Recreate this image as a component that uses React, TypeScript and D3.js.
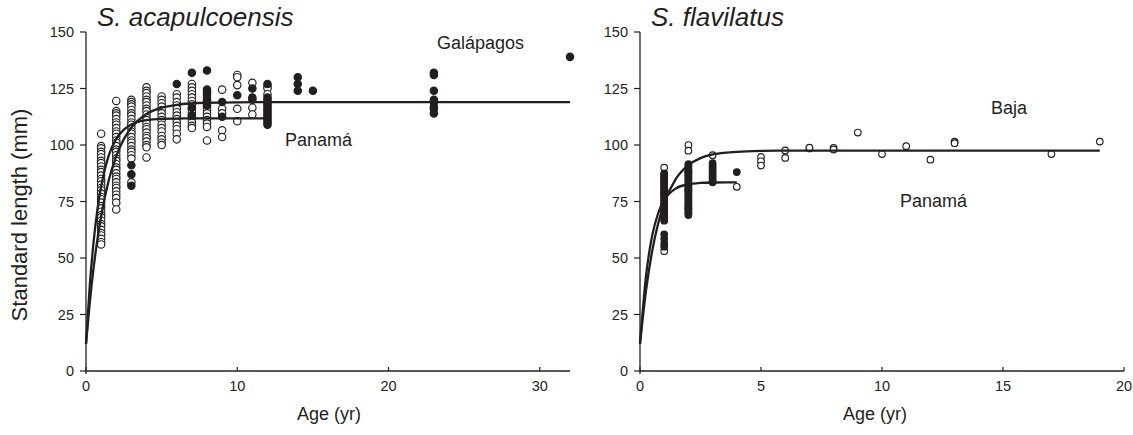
import * as d3 from 'd3';

type Column = [number, number[]];

// S. acapulcoensis — Panamá (open) and Galápagos (filled), by age column
const ACA_PANAMA: Column[] = [
  [1, [105, 99.5, 98.5, 97, 96, 94.5, 93, 92, 90.5, 89, 88, 86.5, 85, 84, 82.5, 81, 80, 78.5, 77, 76, 74.5, 73, 72, 70.5, 69, 68, 66.5, 65, 64, 62.5, 61, 60, 58.5, 57, 56]],
  [2, [119.5, 115, 114, 113, 111.5, 110, 109, 107.5, 106, 105, 103.5, 102, 101, 99.5, 98, 97, 95.5, 94, 93, 91.5, 90, 89, 87.5, 86, 85, 83.5, 82, 81, 79.5, 78, 76.5, 74.5, 71.5]],
  [3, [120, 119, 118, 117, 115.5, 114, 113, 111.5, 110, 109, 107.5, 106, 105, 103.5, 102, 101, 99.5, 98, 97, 95.5, 94, 83.5]],
  [4, [125.5, 124, 123, 121.5, 120, 119, 117.5, 116, 115, 113.5, 112, 111, 109.5, 108, 107, 105.5, 104, 103, 101.5, 100, 99, 94.5]],
  [5, [121.5, 120, 118.5, 117, 115.5, 114, 112.5, 111, 109, 107.5, 106, 104, 102.5, 101, 100]],
  [6, [122.5, 121, 119, 117.5, 116, 114.5, 113, 111.5, 110, 108.5, 107, 105, 102.5]],
  [7, [127, 125.5, 124, 122.5, 121, 119.5, 118, 116, 114.5, 113, 111.5, 110, 108.5, 107.5]],
  [8, [117, 115.5, 114, 112.5, 111, 109.5, 108, 102]],
  [9, [124.5, 116, 114, 106.5, 103.5]],
  [10, [131, 130, 126.5, 116, 110.5]],
  [11, [127.5, 116.5, 113.5]],
  [12, [126, 125, 122.5]],
];

const ACA_GALAPAGOS: Column[] = [
  [3, [91, 87, 82]],
  [6, [127]],
  [7, [132, 116.5, 113]],
  [8, [133, 124.5, 123.5, 122.5, 121, 120, 119, 117.5]],
  [9, [119, 112.5]],
  [10, [122]],
  [11, [125, 121, 120]],
  [12, [127, 121, 120, 119, 118, 117, 116, 115, 114, 113, 112, 111, 110, 109]],
  [14, [130, 127, 124]],
  [15, [124]],
  [23, [132, 131, 124, 120, 119, 117, 116, 114]],
  [32, [139]],
];

// growth curves
const ACA_GAL_CURVE_AGE = [0, 0.25, 0.5, 0.75, 1, 1.5, 2, 2.5, 3, 4, 5, 6, 8, 10, 15, 20, 32];
const ACA_GAL_CURVE_LEN = [12, 30.3, 45.5, 58, 68.5, 84.3, 95.1, 102.6, 107.7, 113.7, 116.5, 117.8, 118.7, 118.9, 119, 119, 119];
const ACA_PAN_CURVE_AGE = [0, 0.25, 0.5, 0.75, 1, 1.5, 2, 2.5, 3, 4, 5, 6, 8, 10, 12];
const ACA_PAN_CURVE_LEN = [12, 37.9, 57, 71.2, 81.7, 95.3, 102.7, 106.8, 109.1, 111, 111.6, 111.7, 111.8, 111.8, 111.8];

// S. flavilatus — Baja (open) and Panamá (filled)
const FLA_BAJA: Column[] = [
  [1, [90, 84, 79, 73, 68, 53]],
  [2, [100, 97.5, 88, 80, 72]],
  [3, [95.5]],
  [4, [81.5]],
  [5, [94.7, 92.8, 90.9]],
  [6, [97.6, 94.3]],
  [7, [98.5, 98.8]],
  [8, [98.7, 98]],
  [9, [105.5]],
  [10, [96]],
  [11, [99.5]],
  [12, [93.5]],
  [13, [101.5, 100.8]],
  [17, [96]],
  [19, [101.5]],
];

const FLA_PANAMA: Column[] = [
  [1, [87.5, 86.8, 86, 85.3, 84.5, 83.8, 83, 82.3, 81.5, 80.8, 80, 79.3, 78.5, 77.8, 77, 76.3, 75.5, 74.8, 74, 73.3, 72.5, 71.8, 71, 70.3, 69.5, 68.8, 68, 67.3, 66.5, 60.5, 58.5, 56.5, 55]],
  [2, [91.5, 90.8, 90, 89.3, 88.5, 87.8, 87, 86.3, 85.5, 84.8, 84, 83.3, 82.5, 81.8, 81, 80.3, 79.5, 78.8, 78, 77.3, 76.5, 75.8, 75, 74.3, 73.5, 72.8, 72, 71.3, 70.5, 69.8, 69]],
  [3, [92, 91, 90, 89, 88, 87, 86, 85, 84, 83.5]],
  [4, [88]],
];

const FLA_BAJA_CURVE_AGE = [0, 0.25, 0.5, 0.75, 1, 1.5, 2, 2.5, 3, 4, 5, 6, 8, 12, 19];
const FLA_BAJA_CURVE_LEN = [12, 35.7, 52.9, 65.3, 74.2, 85.3, 91.1, 94.2, 95.8, 97, 97.4, 97.5, 97.5, 97.5, 97.5];
const FLA_PAN_CURVE_AGE = [0, 0.25, 0.5, 0.75, 1, 1.5, 2, 2.5, 3, 4];
const FLA_PAN_CURVE_LEN = [12, 42.2, 59.7, 69.8, 75.6, 80.9, 82.6, 83.2, 83.4, 83.5];

const Y_TICKS = [0, 25, 50, 75, 100, 125, 150];
const ACA_X_TICKS = [0, 10, 20, 30];
const FLA_X_TICKS = [0, 5, 10, 15, 20];

const FONT = '"Liberation Sans", Arial, Helvetica, sans-serif';
const INK = '#231f20';

interface Label {
  text: string;
  x: number;
  y: number;
}

interface PanelProps {
  left: number;
  right: number;
  xMax: number;
  xTicks: number[];
  title: string;
  open: Column[];
  filled: Column[];
  curves: [number[], number[]][];
  labels: Label[];
  r: number;
  ageLabelX: number;
}

function Panel({ left, right, xMax, xTicks, title, open, filled, curves, labels, r, ageLabelX }: PanelProps) {
  const x = d3.scaleLinear().domain([0, xMax]).range([left, right]);
  const y = d3.scaleLinear().domain([0, 150]).range([371, 32]);
  const line = d3
    .line<[number, number]>()
    .x((d) => x(d[0]))
    .y((d) => y(d[1]))
    .curve(d3.curveMonotoneX);

  const dots = (cols: Column[]) =>
    cols.flatMap(([age, vals]) => vals.map((v) => [age, v] as [number, number]));

  return (
    <g>
      <text x={left + 11} y={26} fontSize={26} fontStyle="italic" fontFamily={FONT} fill={INK}>
        {title}
      </text>

      {/* axes */}
      <line x1={x(0)} x2={x(0)} y1={y(150)} y2={y(0) + 3} stroke={INK} strokeWidth={1.3} />
      <line x1={x(0)} x2={x(xMax)} y1={y(0)} y2={y(0)} stroke={INK} strokeWidth={1.3} />
      {Y_TICKS.map((t) => (
        <g key={`y${t}`}>
          <line x1={x(0) - 6} x2={x(0)} y1={y(t)} y2={y(t)} stroke={INK} strokeWidth={1.2} />
          <text x={x(0) - 12} y={y(t)} dy="0.35em" textAnchor="end" fontSize={14.5} fontFamily={FONT} fill={INK}>
            {t}
          </text>
        </g>
      ))}
      {xTicks.map((t) => (
        <g key={`x${t}`}>
          <line x1={x(t)} x2={x(t)} y1={y(0)} y2={y(0) - 4} stroke={INK} strokeWidth={1.2} />
          <text x={x(t)} y={391} textAnchor="middle" fontSize={14.5} fontFamily={FONT} fill={INK}>
            {t}
          </text>
        </g>
      ))}
      <text x={ageLabelX} y={420} textAnchor="middle" fontSize={18} fontFamily={FONT} fill={INK}>
        Age (yr)
      </text>

      {/* points */}
      {dots(open).map(([a, v], i) => (
        <circle key={`o${i}`} cx={x(a)} cy={y(v)} r={r} fill="#fff" stroke={INK} strokeWidth={1.15} />
      ))}
      {dots(filled).map(([a, v], i) => (
        <circle key={`f${i}`} cx={x(a)} cy={y(v)} r={r} fill={INK} stroke={INK} strokeWidth={1.15} />
      ))}

      {/* fitted growth curves */}
      {curves.map(([ages, lens], i) => (
        <path
          key={`c${i}`}
          d={line(ages.map((a, j) => [a, lens[j]] as [number, number])) ?? ''}
          fill="none"
          stroke={INK}
          strokeWidth={2.3}
        />
      ))}

      {labels.map((l) => (
        <text key={l.text} x={l.x} y={l.y} fontSize={18} fontFamily={FONT} fill={INK}>
          {l.text}
        </text>
      ))}
    </g>
  );
}

export default function App() {
  return (
    <svg
      width={1133}
      height={435}
      viewBox="0 0 1133 435"
      style={{ position: 'absolute', left: 0, top: 0, background: '#fff' }}
    >
      <text
        transform="translate(27,215) rotate(-90)"
        textAnchor="middle"
        fontSize={22}
        fontFamily={FONT}
        fill={INK}
      >
        Standard length (mm)
      </text>
      <Panel
        left={86}
        right={570}
        xMax={32}
        xTicks={ACA_X_TICKS}
        title="S. acapulcoensis"
        open={ACA_PANAMA}
        filled={ACA_GALAPAGOS}
        curves={[
          [ACA_GAL_CURVE_AGE, ACA_GAL_CURVE_LEN],
          [ACA_PAN_CURVE_AGE, ACA_PAN_CURVE_LEN],
        ]}
        labels={[
          { text: 'Galápagos', x: 437, y: 49 },
          { text: 'Panamá', x: 285, y: 146 },
        ]}
        r={3.7}
        ageLabelX={329}
      />
      <Panel
        left={640}
        right={1124}
        xMax={20}
        xTicks={FLA_X_TICKS}
        title="S. flavilatus"
        open={FLA_BAJA}
        filled={FLA_PANAMA}
        curves={[
          [FLA_BAJA_CURVE_AGE, FLA_BAJA_CURVE_LEN],
          [FLA_PAN_CURVE_AGE, FLA_PAN_CURVE_LEN],
        ]}
        labels={[
          { text: 'Baja', x: 991, y: 114 },
          { text: 'Panamá', x: 900, y: 207 },
        ]}
        r={3.3}
        ageLabelX={875}
      />
    </svg>
  );
}
